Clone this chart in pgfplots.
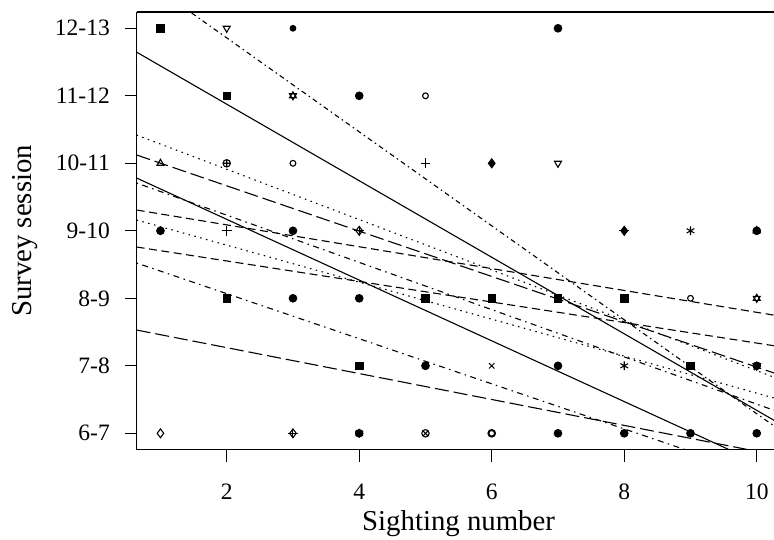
\documentclass[border=0pt]{standalone}
\usepackage{fontspec}
\setmainfont{Liberation Serif}
\usepackage{pgfplots}
\pgfplotsset{compat=1.18}
\begin{document}
\begin{tikzpicture}
\useasboundingbox (0,0) rectangle (774pt,539pt);
\begin{axis}[
  at={(136.6pt,89.5pt)}, anchor=south west,
  scale only axis, width=644pt, height=437.4pt,
  xmin=0.64, xmax=10.36, ymin=0.76, ymax=7.24,
  axis x line*=box, axis y line*=left,
  axis line style={line width=1.2pt},
  xtick={2,4,6,8,10}, xtick pos=bottom,
  ytick={1,2,3,4,5,6,7}, ytick pos=left,
  yticklabels={6-7,7-8,8-9,9-10,10-11,11-12,12-13},
  tick align=outside, major tick length=12pt,
  tick style={line width=1.2pt, black},
  /pgf/number format/assume math mode=true,
  ticklabel style={font=\fontsize{23.5}{27}\selectfont},
  xticklabel style={inner sep=0pt, anchor=base, yshift=-38pt},
  yticklabel style={inner sep=0pt, anchor=east, xshift=-14.6pt},
  xlabel={Sighting number}, ylabel={Survey session},
  every axis x label/.style={at={([yshift=-80.5pt]axis description cs:0.5,0)}, anchor=base, font=\fontsize{28.8}{34}\selectfont},
  every axis y label/.style={at={([xshift=-104.6pt]axis description cs:0,0.5)}, anchor=base, rotate=90, font=\fontsize{28.8}{34}\selectfont},
  clip=true,
  every axis plot/.append style={line width=1.1pt, black},
]
% ---- regression lines ----
\addplot[solid] coordinates {(0.64,6.647) (10.36,1.136)};
\addplot[solid] coordinates {(0.64,4.782) (10.36,0.408)};
\addplot[dash pattern=on 5pt off 3.5pt on 1.5pt off 3.5pt] coordinates {(0.64,7.805) (10.36,1.039)};
\addplot[dash pattern=on 1.5pt off 4.5pt] coordinates {(0.64,5.419) (10.36,1.794)};
\addplot[dash pattern=on 14pt off 5pt] coordinates {(0.64,5.123) (10.36,1.860)};
\addplot[dash pattern=on 1.5pt off 4.5pt on 6pt off 4.5pt] coordinates {(0.64,4.708) (10.36,1.306)};
\addplot[dash pattern=on 8pt off 4.5pt] coordinates {(0.64,4.308) (10.36,2.734)};
\addplot[dash pattern=on 1.5pt off 4.5pt] coordinates {(0.64,4.160) (10.36,1.496)};
\addplot[dash pattern=on 8pt off 4.5pt] coordinates {(0.64,3.760) (10.36,2.282)};
\addplot[dash pattern=on 1.5pt off 4.5pt on 6pt off 4.5pt] coordinates {(0.64,3.523) (10.36,0.277)};
\addplot[dash pattern=on 14pt off 5pt] coordinates {(0.64,2.530) (10.36,0.664)};
% ---- points ----
\addplot[only marks, mark=square*, mark size=3.8pt, mark options={solid, line width=0.8pt}]
  coordinates {(1,7) (2,6) (2,3) (5,3) (6,3) (7,3) (8,3) (4,2) (9,2)};
\addplot[only marks, mark=*, mark size=3.9pt, mark options={solid, line width=0.8pt}]
  coordinates {(7,7) (4,6) (1,4) (3,4) (3,3) (4,3) (5,2) (7,2) (7,1) (8,1) (9,1) (10,1) (10,4) (10,2) (4,1)};
\addplot[only marks, mark=*, mark size=2.8pt, mark options={solid}]
  coordinates {(3,7)};
\addplot[only marks, mark=triangle, mark size=4pt, mark options={solid, rotate=180, line width=1.1pt}]
  coordinates {(2,7) (7,5) (3,6) (10,3)};
\addplot[only marks, mark=triangle, mark size=4pt, mark options={solid, line width=1.1pt}]
  coordinates {(1,5) (3,6) (10,3)};
\addplot[only marks, mark=triangle*, mark size=4.3pt, mark options={solid}]
  coordinates {(10,4)};
\addplot[only marks, mark=triangle*, mark size=4.3pt, mark options={solid, rotate=180}]
  coordinates {(10,2)};
\addplot[only marks, mark=o, mark size=2.9pt, mark options={solid, line width=1.1pt}]
  coordinates {(5,6) (3,5) (9,3)};
\addplot[only marks, mark=oplus, mark size=3.7pt, mark options={solid, line width=1.1pt}]
  coordinates {(2,5)};
\addplot[only marks, mark=+, mark size=4.8pt, mark options={solid, line width=1pt}]
  coordinates {(5,5) (2,4) (4,4) (3,1) (8,4)};
\addplot[only marks, mark=diamond*, mark size=4.4pt, mark options={solid}]
  coordinates {(6,5) (8,4)};
\addplot[only marks, mark=diamond, mark size=4.4pt, mark options={solid, line width=1.1pt}]
  coordinates {(4,4) (3,1) (1,1)};
\addplot[only marks, mark=asterisk, mark size=4.4pt, mark options={solid, line width=1.1pt}]
  coordinates {(9,4) (8,2) (4,1)};
\addplot[only marks, mark=x, mark size=3.8pt, mark options={solid, line width=1pt}]
  coordinates {(6,2)};
\addplot[only marks, mark=otimes, mark size=3.7pt, mark options={solid, line width=1.1pt}]
  coordinates {(5,1)};
\addplot[only marks, mark=o, mark size=3.3pt, mark options={solid, line width=2pt}]
  coordinates {(6,1)};
\end{axis}
\end{tikzpicture}
\end{document}
